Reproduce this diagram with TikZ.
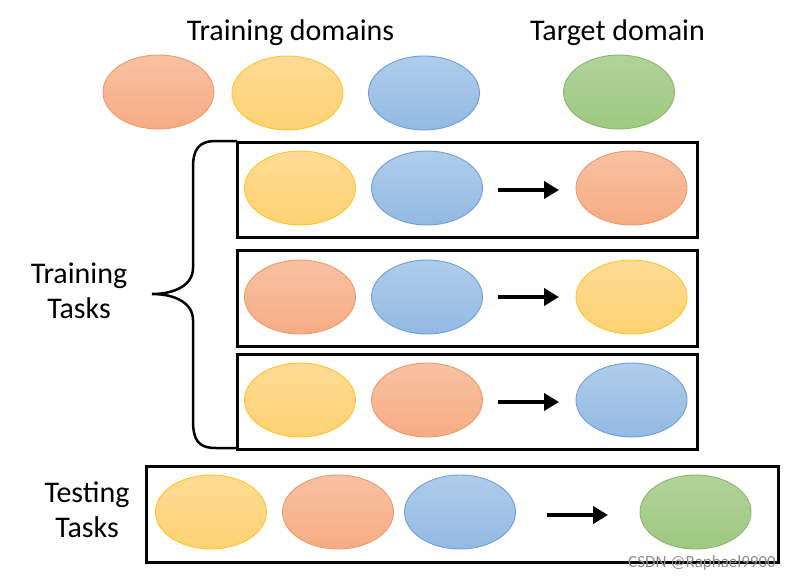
\documentclass[tikz,border=0pt]{standalone}
\usepackage{fontspec}
\setmainfont{Carlito}
\usetikzlibrary{arrows.meta}
\usetikzlibrary{shapes}

\definecolor{OrangeTop}{HTML}{F9C1A2}
\definecolor{OrangeBot}{HTML}{F6AC84}
\definecolor{OrangeLine}{HTML}{EE9A6C}
\definecolor{YellowTop}{HTML}{FFDB94}
\definecolor{YellowBot}{HTML}{FDD273}
\definecolor{YellowLine}{HTML}{FFC52E}
\definecolor{BlueTop}{HTML}{AFCDEB}
\definecolor{BlueBot}{HTML}{93B9E3}
\definecolor{BlueLine}{HTML}{6FA0D8}
\definecolor{GreenTop}{HTML}{B1D399}
\definecolor{GreenBot}{HTML}{9FC882}
\definecolor{GreenLine}{HTML}{88B86A}

\begin{document}
\begin{tikzpicture}[x=1pt,y=-1pt]
   \useasboundingbox (0,0) rectangle (799,579);
   \tikzset{Domain/.style={ellipse,minimum width=111pt,minimum height=74pt,inner sep=0pt,line width=0.9pt}}
   \tikzset{Orange/.style={Domain,draw=OrangeLine,top color=OrangeTop,bottom color=OrangeBot}}
   \tikzset{Yellow/.style={Domain,draw=YellowLine,top color=YellowTop,bottom color=YellowBot}}
   \tikzset{Blue/.style={Domain,draw=BlueLine,top color=BlueTop,bottom color=BlueBot}}
   \tikzset{Green/.style={Domain,draw=GreenLine,top color=GreenTop,bottom color=GreenBot}}
   \tikzset{TaskBox/.style={draw=black,line width=3pt}}
   \tikzset{Label/.style={font=\fontsize{30}{35}\selectfont,align=center,inner sep=0pt}}
   \tikzset{Arrow/.style={-{Triangle[length=15pt,width=17pt]},line width=4pt}}
   \node[Label,anchor=base] (TrainDom) at (290.5,40) {Training domains};
   \node[Label,anchor=base] (TargetDom) at (617.5,40) {Target domain};
   \node[Orange] (DO) at (158.5,92) {};
   \node[Yellow] (DY) at (287.5,93) {};
   \node[Blue] (DB) at (424,93) {};
   \node[Green] (DG) at (619,92) {};
   \draw[TaskBox] (237,142) rectangle (697,237);
   \draw[TaskBox] (237,250) rectangle (697,346);
   \draw[TaskBox] (237,354) rectangle (697,449);
   \draw[TaskBox] (146,466) rectangle (778,562);
   \node[Yellow] (Y1) at (300,188) {};
   \node[Blue] (B1) at (427,188) {};
   \node[Orange] (O1) at (631.5,188) {};
   \node[Orange] (O2) at (300,297) {};
   \node[Blue] (B2) at (427,297) {};
   \node[Yellow] (Y2) at (631.5,297) {};
   \node[Yellow] (Y3) at (300,400) {};
   \node[Orange] (O3) at (427,400) {};
   \node[Blue] (B3) at (631.5,400) {};
   \node[Yellow] (Y4) at (211,512) {};
   \node[Orange] (O4) at (338,512) {};
   \node[Blue] (B4) at (460,512) {};
   \node[Green] (G4) at (695.5,512) {};
   \coordinate (s1) at (498,190);
   \coordinate (e1) at (559,190);
   \coordinate (s2) at (498,297);
   \coordinate (e2) at (559,297);
   \coordinate (s3) at (498,402);
   \coordinate (e3) at (559,402);
   \coordinate (s4) at (547,515);
   \coordinate (e4) at (608,515);
   \draw[Arrow] (s1) -- (e1);
   \draw[Arrow] (s2) -- (e2);
   \draw[Arrow] (s3) -- (e3);
   \draw[Arrow] (s4) -- (e4);
   \draw[line width=2.5pt] (237,141) -- (216,141) .. controls (198,141) and (193,150) .. (193,168)
      -- (193,268) .. controls (193,285) and (175,294) .. (152,294)
      .. controls (175,294) and (193,303) .. (193,320)
      -- (193,420) .. controls (193,440) and (198,448) .. (216,448) -- (237,448);
   \node[Label] (TrainTasks) at (79,291) {Training\\Tasks};
   \node[Label] (TestTasks) at (87,510) {Testing\\Tasks};
   \node[font=\fontsize{17}{19}\selectfont,text=black!45,anchor=base] (Mark) at (702,567) {CSDN @Raphael9900};
\end{tikzpicture}
\end{document}
